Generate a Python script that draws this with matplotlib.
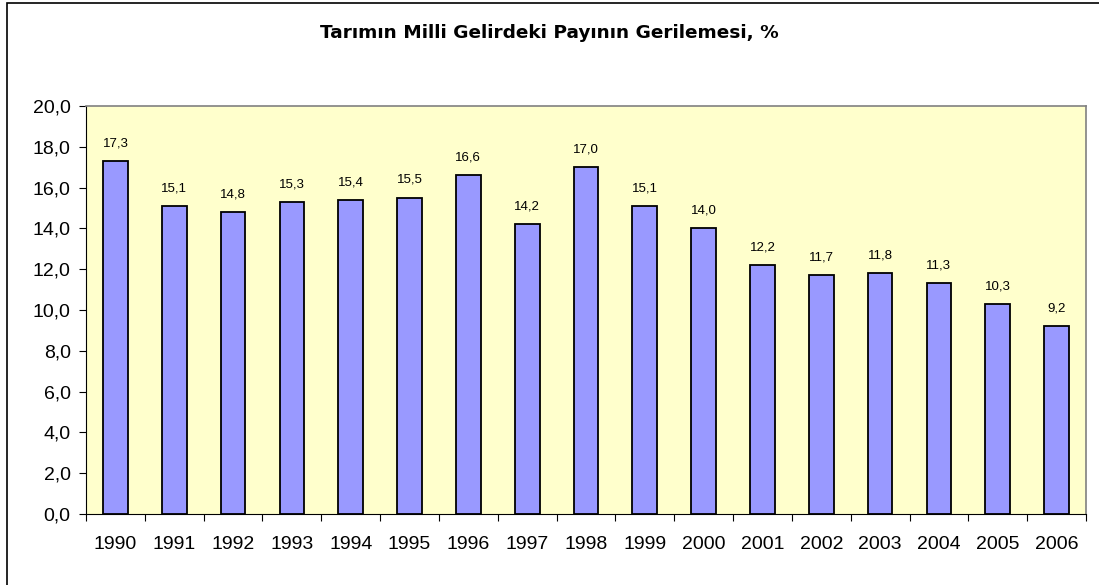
import matplotlib
matplotlib.use("Agg")
import matplotlib.pyplot as plt
from matplotlib.patches import Rectangle
from matplotlib.ticker import FixedLocator, NullFormatter

plt.rcParams['font.family'] = ['Liberation Sans', 'DejaVu Sans']

years = ["1990", "1991", "1992", "1993", "1994", "1995", "1996", "1997", "1998",
         "1999", "2000", "2001", "2002", "2003", "2004", "2005", "2006"]
values = [17.3, 15.1, 14.8, 15.3, 15.4, 15.5, 16.6, 14.2, 17.0,
          15.1, 14.0, 12.2, 11.7, 11.8, 11.3, 10.3, 9.2]
yticks = [0, 2, 4, 6, 8, 10, 12, 14, 16, 18, 20]
title = "Tarımın Milli Gelirdeki Payının Gerilemesi, %"

W, H = 1099, 585
fig = plt.figure(figsize=(W / 100, H / 100), dpi=100)
fig.patch.set_facecolor("white")

# outer chart border
fig.add_artist(Rectangle((6.5 / W, -0.1), 1.2, 1 - 3 / H + 0.1, transform=fig.transFigure,
                         fill=False, edgecolor="black", linewidth=1.2))

ax = fig.add_axes([86 / W, 1 - 514 / H, 1000 / W, 408 / H])
ax.set_facecolor("#FFFFCC")

x = list(range(len(years)))
ax.bar(x, values, width=0.42, color="#9999FF", edgecolor="black", linewidth=1.3, zorder=3)
for xi, v in zip(x, values):
    ax.annotate(f"{v:.1f}".replace(".", ","), (xi, v), xytext=(0, 8.5), textcoords="offset points",
                ha="center", va="bottom", fontsize=9.5, color="black")

ax.set_xlim(-0.5, len(years) - 0.5)
ax.set_ylim(0, 20)
ax.set_yticks(yticks)
ax.set_yticklabels([f"{t:.1f}".replace(".", ",") for t in yticks], fontsize=14)

ax.set_xticks(x)
ax.set_xticklabels(years, fontsize=14)
ax.tick_params(axis="x", which="major", length=0, pad=16)
ax.xaxis.set_minor_locator(FixedLocator([i - 0.5 for i in range(len(years) + 1)]))
ax.xaxis.set_minor_formatter(NullFormatter())
ax.tick_params(axis="x", which="minor", length=5, direction="out", color="black", width=0.8)
ax.tick_params(axis="y", length=5, direction="out", color="black", width=0.8, pad=6)

for s in ["top", "right"]:
    ax.spines[s].set_color("#808080")
    ax.spines[s].set_linewidth(1.2)
for s in ["left", "bottom"]:
    ax.spines[s].set_color("black")
    ax.spines[s].set_linewidth(0.8)

fig.text(0.5, 1 - 38 / H, title, ha="center", va="baseline", fontsize=13.3,
         fontweight="bold", family=["DejaVu Sans"])

fig.savefig("out.png", dpi=100)
